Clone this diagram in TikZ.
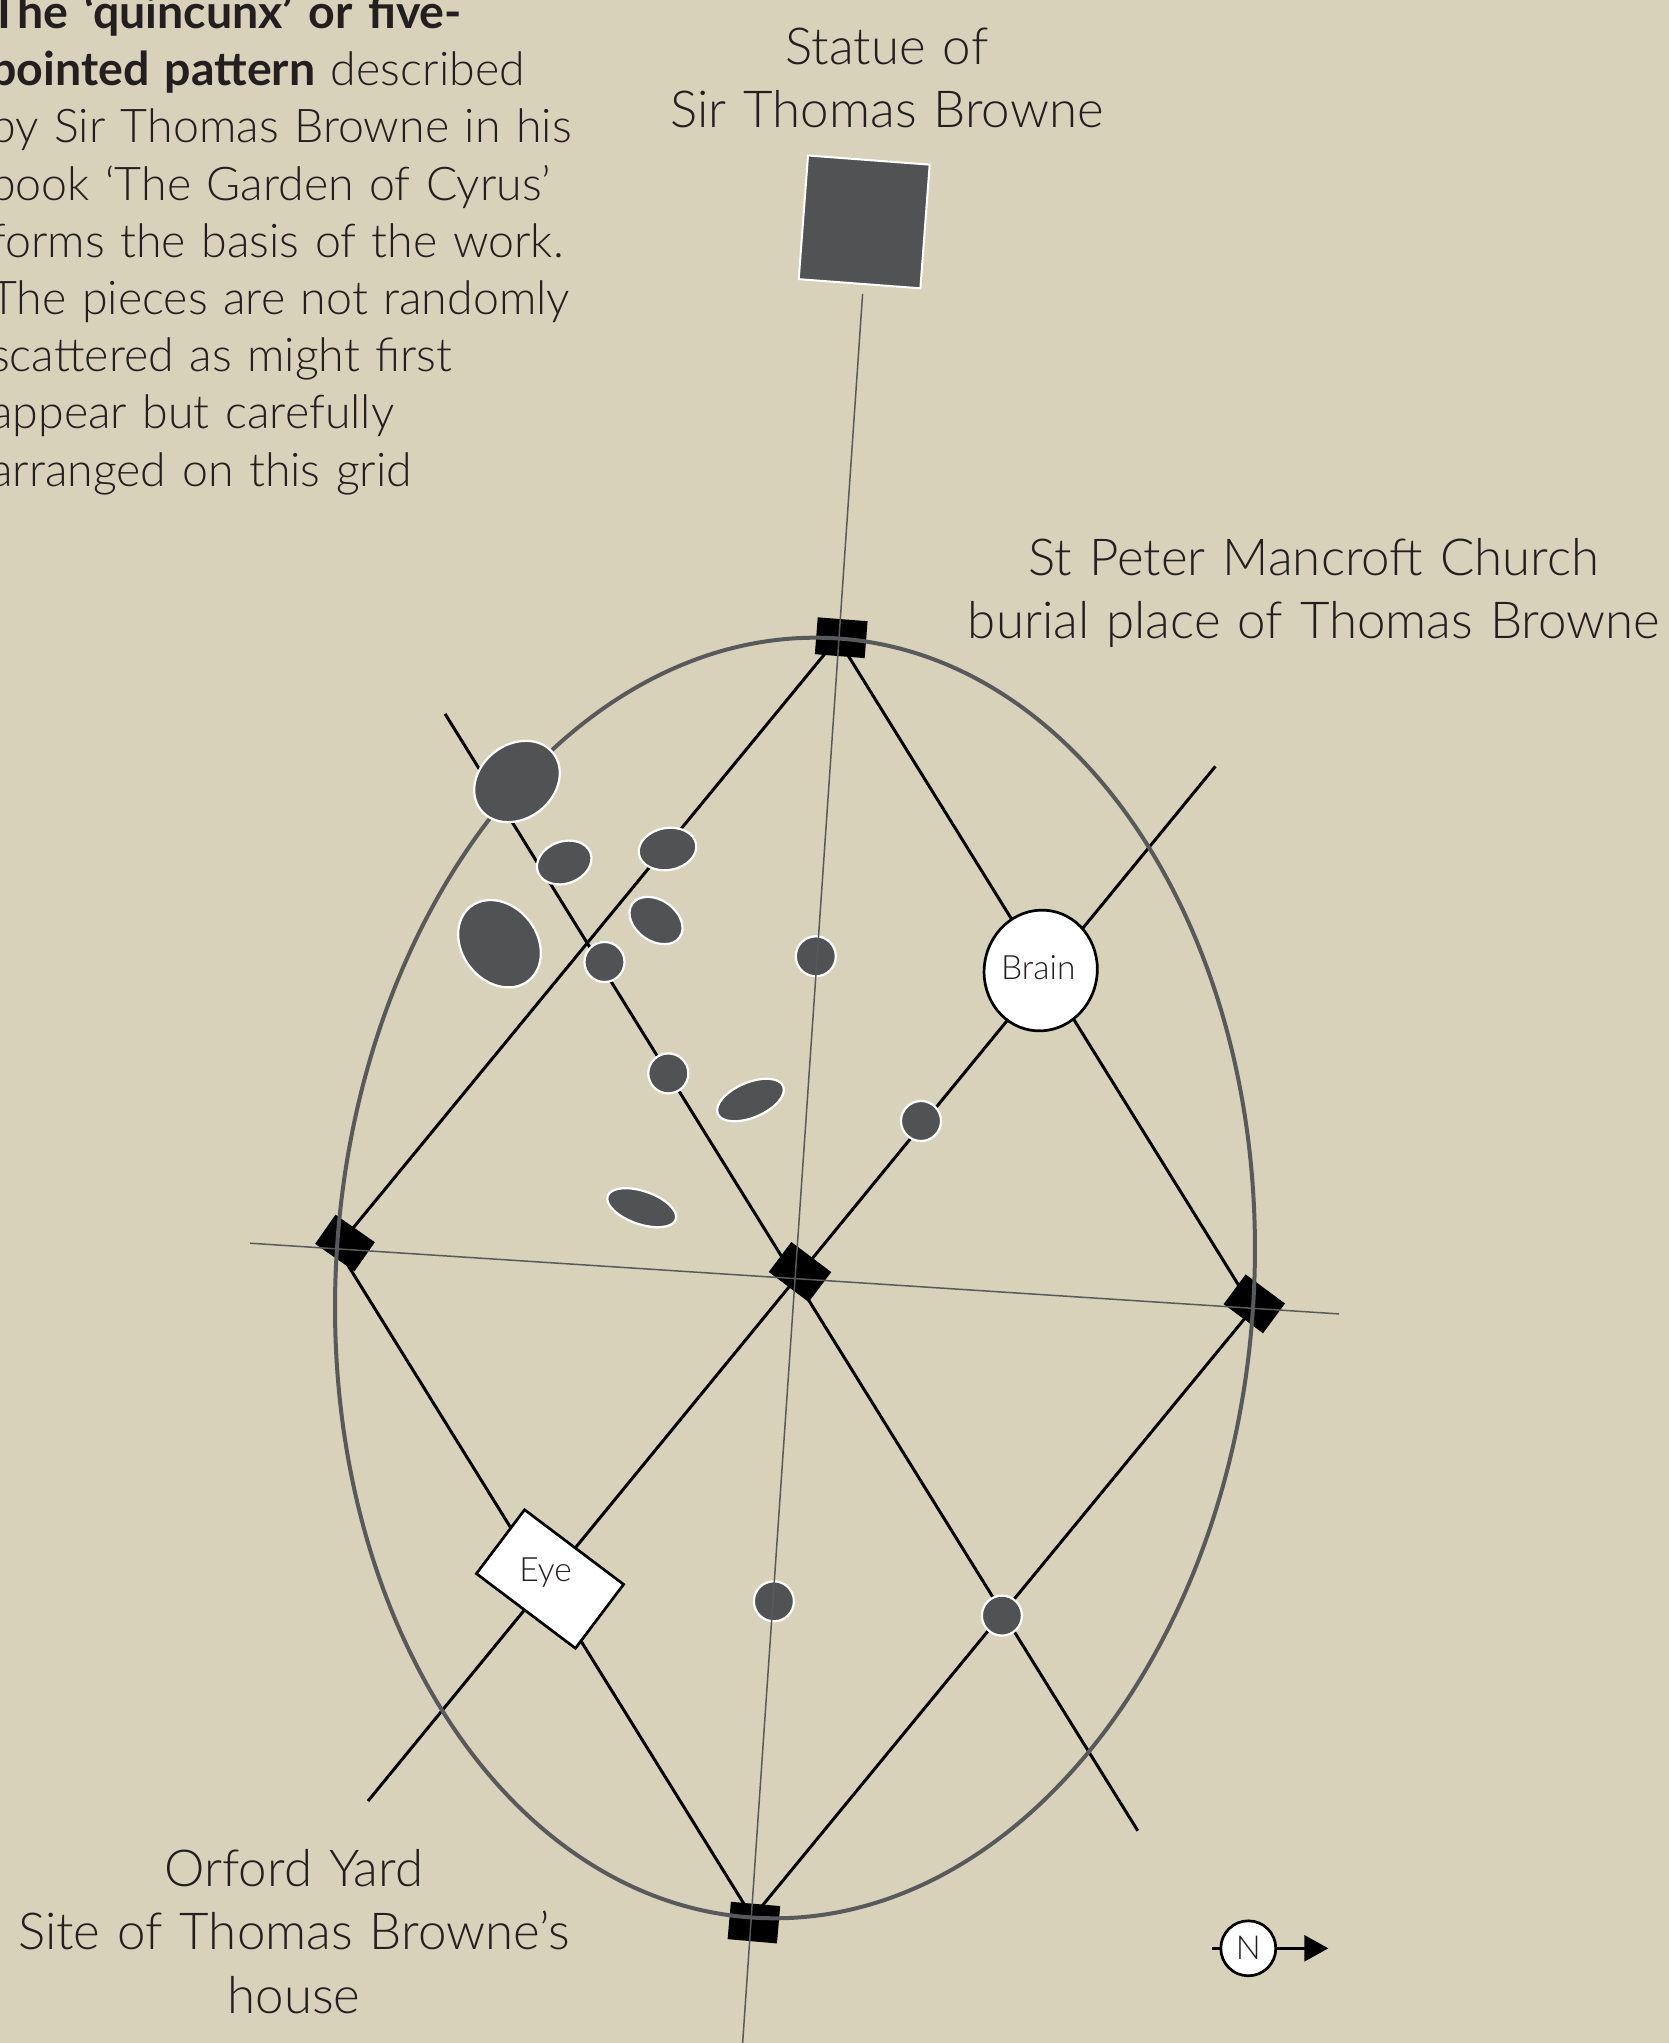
\documentclass[tikz,border=0pt]{standalone}
\usepackage{fontspec}
\setmainfont{Lato}[UprightFont=* Light, BoldFont=* Bold]
\usetikzlibrary{shapes.geometric, arrows.meta}
\definecolor{bg}{HTML}{D8D2BA}
\definecolor{piecegray}{HTML}{505254}
\definecolor{rim}{HTML}{58595B}
\definecolor{ink}{HTML}{231F20}
\tikzset{
  blackline/.style={line width=3pt, black},
  axisline/.style={line width=1.5pt, rim},
  piece/.style={fill=piecegray, draw=white, line width=2.2pt, inner sep=0pt},
  circpiece/.style={piece, circle, minimum size=40pt},
  ovalpiece/.style={piece, ellipse},
  marker/.style={fill=black, rectangle, inner sep=0pt},
  lbl/.style={text=ink, font=\fontsize{51}{63.5}\selectfont, align=center, text width=900pt, anchor=base, inner sep=0pt},
  small/.style={text=ink, font=\fontsize{33.5}{38}\selectfont, inner sep=0pt},
}
\begin{document}
\begin{tikzpicture}[x=1pt, y=-1pt]
\useasboundingbox[fill=bg] (0,0) rectangle (1669,2043);

% lattice points
\coordinate (O) at (795,1278);
\coordinate (T) at (837.5,638.4);
\coordinate (B) at (752.5,1917.6);
\coordinate (L) at (337,1247.6);
\coordinate (R) at (1253,1308.4);
\coordinate (nw) at (445.1,713.9);
\coordinate (se) at (1137.8,1830.8);
\coordinate (ne) at (1215.4,766.3);
\coordinate (sw) at (368,1801);
\coordinate (vtop) at (862.6,294);
\coordinate (vbot) at (742.5,2045);
\coordinate (hl) at (250,1243.2);
\coordinate (hr) at (1339,1313.9);

% black grid lines
\draw[blackline, line join=round] (T) -- (L) -- (B) -- (R) -- cycle;
\draw[blackline] (nw) -- (se);
\draw[blackline] (ne) -- (sw);

% black markers
\node[marker, minimum width=50pt, minimum height=37pt, rotate=-4.5] (mT) at (841.2,637.7) {};
\node[marker, minimum width=49.5pt, minimum height=37.5pt, rotate=-5] (mB) at (753.9,1922.6) {};
\node[marker, minimum width=48pt, minimum height=35.5pt, rotate=-35] (mL) at (345,1243) {};
\node[marker, minimum width=50pt, minimum height=37.5pt, rotate=-37] (mC) at (800,1272) {};
\node[marker, minimum width=49pt, minimum height=37pt, rotate=-36.5] (mR) at (1254.3,1303.8) {};

% big ellipse
\draw[rim, line width=4pt, rotate around={-3.8:(O)}] (O) ellipse [x radius=459pt, y radius=641pt];

% pieces
\node[ovalpiece, minimum width=92pt, minimum height=74pt, rotate=38] (p1) at (517,781.5) {};
\node[ovalpiece, minimum width=56pt, minimum height=42pt, rotate=20] (p2) at (564.2,862.5) {};
\node[ovalpiece, minimum width=58pt, minimum height=42pt, rotate=10] (p3) at (667.5,849) {};
\node[ovalpiece, minimum width=94pt, minimum height=75pt, rotate=-52] (p4) at (499.5,943.7) {};
\node[ovalpiece, minimum width=58pt, minimum height=41pt, rotate=-35] (p5) at (656,920.5) {};
\node[circpiece] (p6) at (604.5,962) {};
\node[circpiece] (p7) at (815.8,956.3) {};
\node[circpiece] (p8) at (668.3,1073.4) {};
\node[ovalpiece, minimum width=71pt, minimum height=35pt, rotate=23] (p9) at (750.5,1100) {};
\node[circpiece] (p10) at (921,1121) {};
\node[ovalpiece, minimum width=72pt, minimum height=33pt, rotate=-19] (p11) at (641.7,1207.7) {};
\node[circpiece] (p12) at (773.9,1601.3) {};
\node[circpiece] (p13) at (1001.9,1615.6) {};

% brain and eye
\node[ellipse, draw=black, fill=white, line width=2.7pt, minimum width=113pt, minimum height=121pt, rotate=-10, inner sep=0pt] (brainshape) at (1040.7,970.5) {};
\node[small, anchor=base] (brain) at (1038.3,979.3) {Brain};
\node[rectangle, draw=black, fill=white, line width=2.7pt, minimum width=124pt, minimum height=80pt, rotate=-37, inner sep=0pt] (eyeshape) at (550,1579) {};
\node[small, anchor=base] (eye) at (545.6,1581) {Eye};

% statue
\node[rectangle, fill=piecegray, draw=white, line width=2pt, minimum width=122pt, minimum height=124pt, rotate=-4.3, inner sep=0pt] (statue) at (864.2,221.9) {};

% axes
\draw[axisline] (vtop) -- (vbot);
\draw[axisline] (hl) -- (hr);

% compass
\coordinate (nstub) at (1211.7,1948.3);
\coordinate (ntip) at (1328.3,1948.3);
\draw[line width=2.7pt, -{Triangle[length=24pt, width=26pt]}] (nstub) -- (ntip);
\node[circle, draw=black, fill=white, line width=2.7pt, minimum size=55pt, inner sep=0pt, text=ink, font=\fontsize{33}{38}\selectfont] (N) at (1248.3,1948.3) {N};

% labels
\node[lbl] (statuelbl) at (887,64) {Statue of\\Sir Thomas Browne};
\node[lbl] (churchlbl) at (1314,575) {St Peter Mancroft Church\\burial place of Thomas Browne};
\node[lbl] (orfordlbl) at (294,1886) {Orford Yard\\Site of Thomas Browne’s\\house};

\node[text=ink, font=\fontsize{46.5}{57.2}\selectfont, align=left, text width=800pt, anchor=base west, inner sep=0pt] (para) at (-10,28.4)
{\textbf{The ‘quincunx’ or five-}\\\textbf{pointed pattern} described\\by Sir Thomas Browne in his\\book ‘The Garden of Cyrus’\\forms the basis of the work.\\The pieces are not randomly\\scattered as might first\\appear but carefully\\arranged on this grid};
\end{tikzpicture}
\end{document}
